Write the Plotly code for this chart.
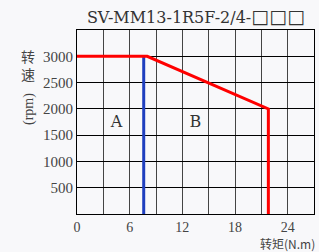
import plotly.graph_objects as go

# Data
red_torque = [0, 8, 21.8, 21.8]
red_speed = [3000, 3000, 2000, 0]
blue_torque = [7.6, 7.6]
blue_speed = [0, 3000]
region_labels = ["A", "B"]
region_x = [4.5, 13.5]
region_y = [1730, 1730]
x_ticks = [0, 6, 12, 18, 24]
y_ticks = [500, 1000, 1500, 2000, 2500, 3000]
title_main = "SV-MM13-1R5F-2/4-"
title_boxes = "□□□"

serif = "Liberation Serif, Noto Sans CJK SC, serif"
dserif = "DejaVu Serif, serif"
cjk = "Noto Sans CJK SC, serif"

fig = go.Figure()
fig.add_trace(go.Scatter(x=blue_torque, y=blue_speed, mode="lines",
                         line=dict(color="#1f3fbf", width=3), hoverinfo="skip"))
fig.add_trace(go.Scatter(x=red_torque, y=red_speed, mode="lines",
                         line=dict(color="#ff0000", width=3), hoverinfo="skip"))
fig.add_trace(go.Scatter(x=region_x, y=region_y, mode="text", text=region_labels,
                         textfont=dict(family=dserif, size=16, color="#333333"),
                         hoverinfo="skip"))

fig.update_layout(
    width=319, height=252,
    margin=dict(l=77, r=5, t=30, b=38),
    paper_bgcolor="#f8f8fa", plot_bgcolor="#f8f8fa",
    showlegend=False,
    title=dict(text=title_main + "<span style=\"font-family:'DejaVu Sans';font-size:19px\">"
               + title_boxes + "</span>",
               x=196 / 319, xanchor="center", y=1 - 17 / 252, yanchor="middle",
               font=dict(family=dserif, size=16, color="#333333")),
)
fig.update_xaxes(range=[0, 27], tickmode="array", tickvals=x_ticks,
                 showgrid=True, gridcolor="#444444", gridwidth=1,
                 showline=True, linecolor="#000000", linewidth=1, mirror=True,
                 zeroline=False, ticks="", fixedrange=True,
                 tickfont=dict(family=serif, size=14, color="#444444"))
fig.update_xaxes(minor=dict(dtick=3, showgrid=True, gridcolor="#444444", gridwidth=1, tick0=0))
fig.update_yaxes(range=[0, 3500], tickmode="array", tickvals=y_ticks,
                 showgrid=True, gridcolor="#000000", gridwidth=1,
                 showline=True, linecolor="#000000", linewidth=1, mirror=True,
                 zeroline=False, ticks="", fixedrange=True,
                 tickfont=dict(family=serif, size=15, color="#444444"))

ann = [
    dict(text="转<br>速", xpix=28, ypix=65, angle=0, size=14),
    dict(text="(rpm)", xpix=29, ypix=109, angle=-90, size=14),
    dict(text="转矩(N.m)", xpix=287, ypix=243.5, angle=0, size=12),
]
pw, ph = 319 - 77 - 5, 252 - 30 - 38
for a in ann:
    fig.add_annotation(text=a["text"], x=(a["xpix"] - 77) / pw, y=(214 - a["ypix"]) / ph,
                       xref="paper", yref="paper", showarrow=False,
                       xanchor="center", yanchor="middle", textangle=a["angle"],
                       font=dict(family=cjk if a["angle"] == 0 else serif, size=a["size"],
                                 color="#444444"))

fig.write_html("out.html", config={"displayModeBar": False},
               post_script="document.body.style.margin='0';")
